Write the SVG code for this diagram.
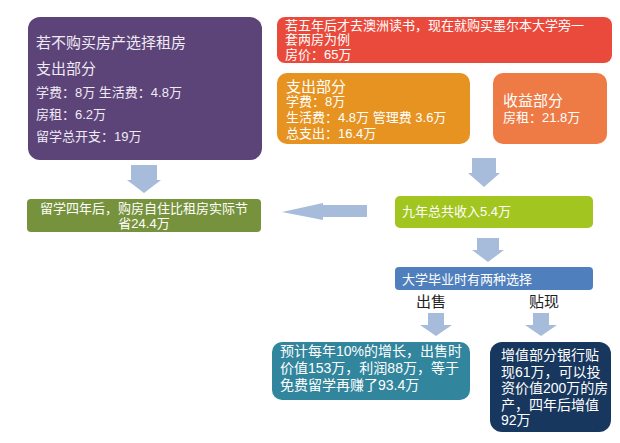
<svg xmlns="http://www.w3.org/2000/svg" width="620" height="443" viewBox="0 0 620 443">
<style>
text{font-family:"Liberation Sans","Noto Sans CJK SC",sans-serif;fill:#ffffff;}
.t15{font-size:15px;}
.t13{font-size:13px;}
.t14{font-size:14px;}
.lbl{font-size:15px;fill:#222222;}
.arr{fill:#a7bbdb;}
</style>
<rect width="620" height="443" fill="#ffffff"/>
<g id="node-rent">
<rect x="28" y="17" width="234" height="143" rx="12" fill="#5c4478"/>
<text class="t15" x="36" y="48" style="fill:#efeaf5">若不购买房产选择租房</text>
<text class="t15" x="36" y="74" style="fill:#efeaf5">支出部分</text>
<text class="t13" x="36" y="97" style="fill:#efeaf5">学费：8万 生活费：4.8万</text>
<text class="t13" x="36" y="119" style="fill:#efeaf5">房租：6.2万</text>
<text class="t13" x="36" y="141" style="fill:#efeaf5">留学总开支：19万</text>
</g>
<g id="node-buy">
<rect x="277" y="17" width="335" height="46" rx="8" fill="#ea4a3b"/>
<text class="t13" x="285" y="30">若五年后才去澳洲读书，现在就购买墨尔本大学旁一</text>
<text class="t13" x="285" y="44">套两房为例</text>
<text class="t13" x="285" y="59">房价：65万</text>
</g>
<g id="node-expense">
<rect x="277" y="73" width="193" height="71" rx="10" fill="#e69322"/>
<text class="t15" x="286" y="92">支出部分</text>
<text class="t13" x="286" y="106">学费：8万</text>
<text class="t13" x="286" y="122">生活费：4.8万  管理费 3.6万</text>
<text class="t13" x="286" y="138">总支出：16.4万</text>
</g>
<g id="node-income">
<rect x="493" y="73" width="114" height="71" rx="10" fill="#ee7b46"/>
<text class="t15" x="503" y="106">收益部分</text>
<text class="t13" x="503" y="122">房租：21.8万</text>
</g>
<g id="node-saving">
<rect x="27" y="199" width="234" height="33" rx="4" fill="#76923c"/>
<text class="t13" x="144" y="213" text-anchor="middle">留学四年后，购房自住比租房实际节</text>
<text class="t13" x="144" y="228" text-anchor="middle">省24.4万</text>
</g>
<g id="node-nine">
<rect x="395" y="196" width="198" height="32" rx="5" fill="#a2c61f"/>
<text class="t13" x="402" y="216">九年总共收入5.4万</text>
</g>
<g id="node-choice">
<rect x="395" y="267" width="198" height="23" rx="4" fill="#4f80bd"/>
<text class="t13" x="402" y="284">大学毕业时有两种选择</text>
</g>
<g id="node-sell">
<rect x="272" y="342" width="198" height="58" rx="10" fill="#31859c"/>
<text class="t14" x="280" y="356">预计每年10%的增长，出售时</text>
<text class="t14" x="280" y="373">价值153万，利润88万，等于</text>
<text class="t14" x="280" y="390">免费留学再赚了93.4万</text>
</g>
<g id="node-discount">
<rect x="490" y="342" width="121" height="90" rx="12" fill="#17375e"/>
<text class="t14" x="501" y="360">增值部分银行贴</text>
<text class="t14" x="501" y="377">现61万，可以投</text>
<text class="t14" x="501" y="393">资价值200万的房</text>
<text class="t14" x="501" y="410">产，四年后增值</text>
<text class="t14" x="501" y="425">92万</text>
</g>
<g id="connectors">
<polygon class="arr" points="131,165 157,165 157,180 161,180 144,193 127,180 131,180"/>
<polygon class="arr" points="472,158 496,158 496,173 500,173 484,187 468,173 472,173"/>
<polygon class="arr" points="477,238 499,238 499,250 504,250 488,262 472,250 477,250"/>
<polygon class="arr" points="367,205 367,217 323,217 323,220 282,212 323,203 323,205"/>
<polygon class="arr" points="428,313 444,313 444,325 452,325 436,336 420,325 428,325"/>
<polygon class="arr" points="533,313 549,313 549,325 557,325 541,336 525,325 533,325"/>
<text class="lbl" x="431" y="307" text-anchor="middle">出售</text>
<text class="lbl" x="544" y="307" text-anchor="middle">贴现</text>
</g>
</svg>
